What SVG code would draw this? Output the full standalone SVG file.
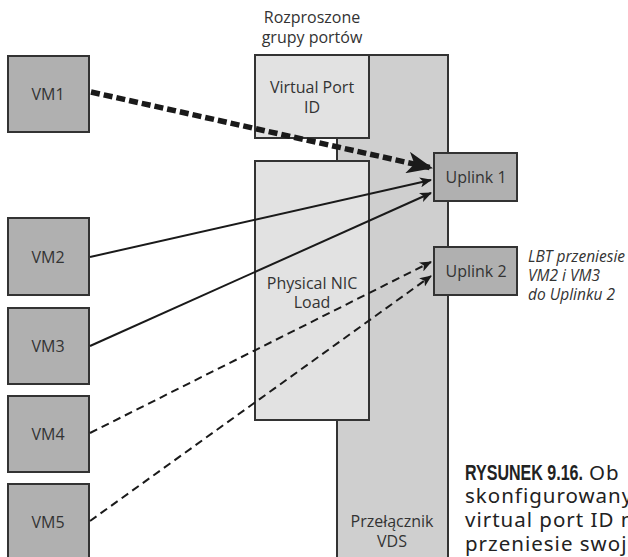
<svg xmlns="http://www.w3.org/2000/svg" width="628" height="557" viewBox="0 0 628 557">
<style>
.lbl{font-family:"Open Sans","Noto Sans",sans-serif;font-size:16px;fill:#333;text-anchor:middle}
.vm{fill:#b0b0b0;stroke:#333;stroke-width:2}
.up{fill:#b0b0b0;stroke:#333;stroke-width:2}
.inner{fill:#e2e2e2;stroke:#333;stroke-width:2}
.vds{fill:#cfcfcf;stroke:#333;stroke-width:2}
.ln{stroke:#1a1a1a;stroke-width:2;fill:none}
.dash{stroke-dasharray:8 5}
.note{font-family:"Open Sans","Noto Sans",sans-serif;font-size:15.5px;font-style:italic;fill:#333}
.cap{font-family:"Noto Sans","DejaVu Sans",sans-serif;font-size:20.5px;letter-spacing:1px;fill:#222}
.capb{font-family:"Liberation Sans","DejaVu Sans",sans-serif;font-weight:bold;font-size:22px;fill:#222}
</style>
<defs>
<marker id="ah" viewBox="0 0 12 10" refX="11" refY="5" markerWidth="12" markerHeight="10" markerUnits="userSpaceOnUse" orient="auto">
<path d="M0,0 L12,5 L0,10 L3,5 Z" fill="#1a1a1a"/>
</marker>
<marker id="ahb" viewBox="0 0 26 22" refX="25" refY="11" markerWidth="26" markerHeight="22" markerUnits="userSpaceOnUse" orient="auto">
<path d="M0,0 L26,11 L0,22 L7,11 Z" fill="#1a1a1a"/>
</marker>
</defs>
<rect width="628" height="557" fill="#ffffff"/>

<g id="header">
<text class="lbl" x="312" y="23">Rozproszone</text>
<text class="lbl" x="312" y="43">grupy portów</text>
</g>

<g id="vds">
<rect class="vds" x="337" y="55" width="111" height="520"/>
<text class="lbl" x="392" y="527">Przełącznik</text>
<text class="lbl" x="392" y="547">VDS</text>
</g>

<g id="vpi">
<rect class="inner" x="255" y="55" width="114" height="83"/>
<text class="lbl" x="312" y="93">Virtual Port</text>
<text class="lbl" x="312" y="113">ID</text>
</g>

<g id="pnic">
<rect class="inner" x="255" y="161" width="114" height="259"/>
<text class="lbl" x="312" y="289">Physical NIC</text>
<text class="lbl" x="312" y="308">Load</text>
</g>

<g id="uplink1">
<rect class="up" x="434" y="153" width="83" height="48"/>
<text class="lbl" x="476" y="183">Uplink 1</text>
</g>

<g id="uplink2">
<rect class="up" x="434" y="247" width="83" height="48"/>
<text class="lbl" x="476" y="277">Uplink 2</text>
</g>

<g id="vm1"><rect class="vm" x="8" y="56" width="81" height="76"/><text class="lbl" x="48" y="100">VM1</text></g>
<g id="vm2"><rect class="vm" x="8" y="218" width="81" height="77"/><text class="lbl" x="48" y="263">VM2</text></g>
<g id="vm3"><rect class="vm" x="8" y="308" width="81" height="76"/><text class="lbl" x="48" y="352">VM3</text></g>
<g id="vm4"><rect class="vm" x="8" y="396" width="81" height="76"/><text class="lbl" x="48" y="440">VM4</text></g>
<g id="vm5"><rect class="vm" x="8" y="484" width="81" height="76"/><text class="lbl" x="48" y="528">VM5</text></g>

<g id="connectors">
<line x1="91" y1="92" x2="432" y2="168" stroke="#1a1a1a" stroke-width="5.5" stroke-dasharray="9 4" marker-end="url(#ahb)"/>
<line class="ln" x1="90" y1="257" x2="431" y2="180" marker-end="url(#ah)"/>
<line class="ln" x1="90" y1="346" x2="431" y2="193" marker-end="url(#ah)"/>
<line class="ln dash" x1="90" y1="433" x2="431" y2="262" marker-end="url(#ah)"/>
<line class="ln dash" x1="90" y1="521" x2="431" y2="276" marker-end="url(#ah)"/>
</g>

<g id="note">
<text class="note" x="528" y="262">LBT przeniesie</text>
<text class="note" x="528" y="281">VM2 i VM3</text>
<text class="note" x="528" y="300">do Uplinku 2</text>
</g>

<g id="caption">
<text class="capb" x="465" y="480" textLength="118" lengthAdjust="spacingAndGlyphs">RYSUNEK 9.16.</text>
<text class="cap" x="589" y="480">Ob</text>
<text class="cap" x="465" y="503">skonfigurowany</text>
<text class="cap" x="465" y="527">virtual port ID n</text>
<text class="cap" x="465" y="551">przeniesie swoj</text>
</g>
</svg>
